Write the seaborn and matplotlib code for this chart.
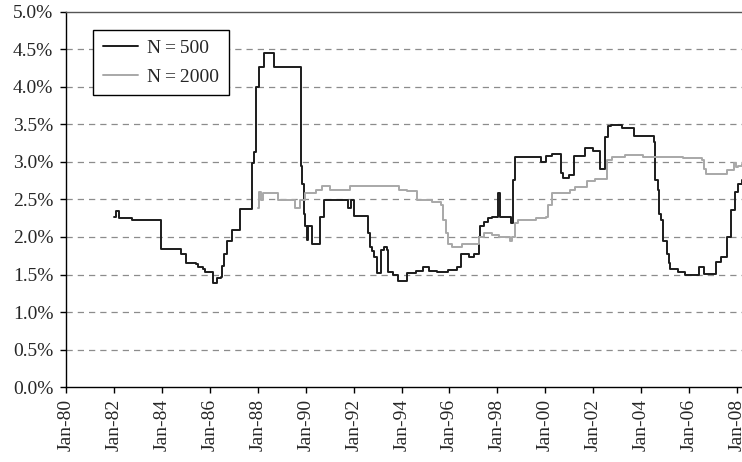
import numpy as np
import pandas as pd
import matplotlib
matplotlib.use('Agg')
import matplotlib.pyplot as plt
import matplotlib.dates as mdates
from matplotlib.ticker import PercentFormatter, MultipleLocator
import seaborn as sns

# step series, breakpoints (decimal year, % value)
n500_years = [1981.98, 1982.07, 1982.20, 1982.72, 1982.87, 1983.95, 1984.79, 1984.99,
              1985.43, 1985.51, 1985.71, 1985.79, 1986.14, 1986.27, 1986.46, 1986.51,
              1986.59, 1986.69, 1986.90, 1987.25, 1987.74, 1987.85, 1987.90, 1988.05,
              1988.26, 1988.67, 1989.79, 1989.84, 1989.91, 1989.96, 1990.03, 1990.07,
              1990.24, 1990.59, 1990.74, 1991.74, 1991.87, 1992.02, 1992.61, 1992.67,
              1992.78, 1992.86, 1992.96, 1993.13, 1993.26, 1993.38, 1993.45, 1993.62,
              1993.83, 1994.21, 1994.62, 1994.91, 1995.15, 1995.48, 1995.95, 1996.30,
              1996.48, 1996.82, 1997.04, 1997.23, 1997.28, 1997.46, 1997.59, 1997.79,
              1998.03, 1998.12, 1998.55, 1998.64, 1998.74, 1999.71, 1999.83, 2000.04,
              2000.28, 2000.65, 2000.74, 2001.00, 2001.20, 2001.67, 2001.98, 2002.30,
              2002.51, 2002.64, 2002.75, 2003.19, 2003.69, 2004.56, 2004.60, 2004.71,
              2004.76, 2004.84, 2004.94, 2005.07, 2005.15, 2005.22, 2005.53, 2005.84,
              2006.21, 2006.43, 2006.62, 2007.12, 2007.34, 2007.58, 2007.77, 2007.91,
              2008.06, 2008.22]
n500_vals = [2.26, 2.35, 2.25, 2.23, 2.22, 1.84, 1.78, 1.66,
             1.64, 1.60, 1.57, 1.53, 1.39, 1.45, 1.47, 1.61,
             1.77, 1.94, 2.09, 2.37, 2.98, 3.13, 3.99, 4.26,
             4.45, 4.26, 2.94, 2.71, 2.31, 2.14, 1.96, 2.14,
             1.90, 2.27, 2.49, 2.38, 2.49, 2.28, 2.05, 1.87,
             1.81, 1.74, 1.52, 1.83, 1.87, 1.83, 1.54, 1.50,
             1.41, 1.52, 1.55, 1.60, 1.55, 1.54, 1.56, 1.60,
             1.78, 1.74, 1.78, 2.00, 2.14, 2.20, 2.25, 2.27,
             2.58, 2.27, 2.18, 2.76, 3.07, 3.06, 3.00, 3.08,
             3.10, 2.85, 2.78, 2.82, 3.08, 3.19, 3.15, 2.90,
             3.33, 3.47, 3.49, 3.45, 3.34, 3.26, 2.76, 2.62,
             2.31, 2.22, 1.94, 1.78, 1.65, 1.57, 1.54, 1.50,
             1.49, 1.60, 1.51, 1.67, 1.73, 2.00, 2.36, 2.60,
             2.70, 2.76]

n2000_years = [1987.99, 1988.04, 1988.11, 1988.23, 1988.83, 1989.55, 1989.76, 1989.96,
               1990.43, 1990.66, 1991.01, 1991.85, 1993.91, 1994.24, 1994.65, 1995.26,
               1995.65, 1995.74, 1995.84, 1995.93, 1996.10, 1996.51, 1997.23, 1997.46,
               1997.77, 1998.06, 1998.53, 1998.63, 1998.72, 1998.88, 1999.60, 2000.04,
               2000.13, 2000.28, 2001.04, 2001.24, 2001.74, 2002.08, 2002.57, 2002.78,
               2003.32, 2004.10, 2005.77, 2006.55, 2006.62, 2006.71, 2007.58, 2007.87,
               2007.96, 2008.06, 2008.22]
n2000_vals = [2.38, 2.60, 2.49, 2.59, 2.49, 2.38, 2.49, 2.59,
              2.62, 2.68, 2.63, 2.68, 2.63, 2.61, 2.49, 2.46,
              2.43, 2.23, 2.05, 1.90, 1.87, 1.90, 2.00, 2.05,
              2.02, 2.00, 1.95, 2.00, 2.18, 2.23, 2.25, 2.27,
              2.43, 2.58, 2.63, 2.67, 2.75, 2.77, 3.02, 3.07,
              3.09, 3.06, 3.05, 3.02, 2.91, 2.84, 2.89, 2.98,
              2.93, 2.95, 2.97]

series_labels = ['N\u2009=\u2009500', 'N\u2009=\u20092000']


def to_date(years):
    years = np.asarray(years, dtype=float)
    return pd.Timestamp('1980-01-01') + pd.to_timedelta((years - 1980) * 365.25, unit='D')


df500 = pd.DataFrame({'date': to_date(n500_years), 'value': np.array(n500_vals) / 100})
df2000 = pd.DataFrame({'date': to_date(n2000_years), 'value': np.array(n2000_vals) / 100})

sns.set_theme(style='white')
plt.rcParams['font.family'] = ['Liberation Serif', 'DejaVu Serif']

fig = plt.figure(figsize=(7.42, 4.62), dpi=100)
ax = fig.add_axes([0.0896, 0.1617, 0.9104, 0.8134])

sns.lineplot(data=df500, x='date', y='value', ax=ax, color='#1c1c1c', linewidth=1.4,
             drawstyle='steps-post', estimator=None, sort=False, label=series_labels[0])
sns.lineplot(data=df2000, x='date', y='value', ax=ax, color='#a8a8a8', linewidth=1.4,
             drawstyle='steps-post', estimator=None, sort=False, label=series_labels[1])

ax.set_xlim(to_date([1980.0])[0], to_date([2008.22])[0])
ax.set_ylim(0, 0.05)
ax.yaxis.set_major_locator(MultipleLocator(0.005))
ax.yaxis.set_major_formatter(PercentFormatter(1.0, decimals=1))
ax.xaxis.set_major_locator(mdates.YearLocator(2, month=1, day=1))
ax.xaxis.set_major_formatter(mdates.DateFormatter('%b-%y'))
plt.setp(ax.get_xticklabels(), rotation=90)
ax.tick_params(axis='both', labelsize=14, length=4.5, width=1, direction='out',
               bottom=True, left=True, color='black')
ax.tick_params(axis='x', pad=4)
ax.tick_params(axis='y', pad=5)
ax.set_xlabel('')
ax.set_ylabel('')

for yv in np.arange(0.005, 0.05, 0.005):
    ax.axhline(yv, color='#8c8c8c', linestyle=(0, (5, 4)), linewidth=0.9, zorder=0)

for side in ['left', 'bottom']:
    ax.spines[side].set_color('black')
    ax.spines[side].set_linewidth(1.0)
ax.spines['top'].set_color('#555555')
ax.spines['top'].set_linewidth(1.0)
ax.spines['right'].set_visible(False)

leg = ax.legend(loc='upper left', bbox_to_anchor=(0.039, 0.951), fontsize=14,
                frameon=True, fancybox=False, edgecolor='black', framealpha=1,
                handlelength=1.8, borderpad=0.5, labelspacing=0.55, handletextpad=0.5,
                borderaxespad=0)
leg.get_frame().set_linewidth(1.0)

fig.savefig('out.png', dpi=100)
